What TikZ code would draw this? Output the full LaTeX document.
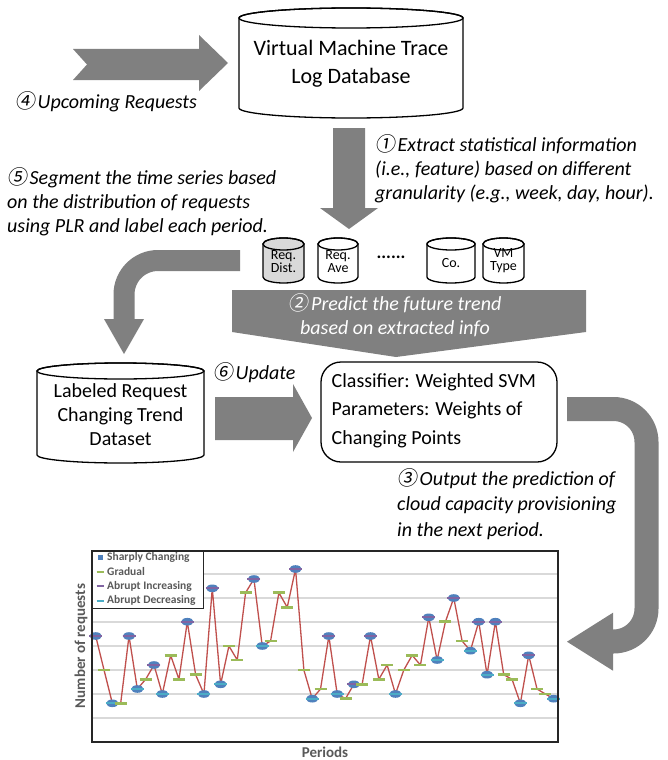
\documentclass[tikz,border=0pt]{standalone}
\usepackage{fontspec}
\setmainfont{Carlito}
\newfontfamily\circfont[FakeSlant=0.15]{Noto Sans CJK JP}
\definecolor{agray}{RGB}{128,128,128}
\definecolor{lgray}{RGB}{217,217,217}
\definecolor{gridc}{RGB}{217,217,217}
\definecolor{txtgray}{RGB}{89,89,89}
\definecolor{mblue}{RGB}{79,129,189}
\definecolor{mred}{RGB}{192,80,77}
\definecolor{mgreen}{RGB}{155,187,89}
\definecolor{mpurple}{RGB}{128,100,162}
\definecolor{mcyan}{RGB}{75,172,198}
\newcommand\cnum[1]{{\circfont #1}\hspace{2.5pt}}
\tikzset{
  cylline/.style={draw=black, line width=1.3},
  lbl/.style={font=\fontsize{20}{24}\selectfont\itshape, anchor=base west, align=left, inner sep=0},
  boxtxt/.style={font=\fontsize{20}{24}\selectfont, align=center, inner sep=0},
  smalltxt/.style={font=\fontsize{14}{13}\selectfont, align=center, inner sep=0},
  legtxt/.style={font=\bfseries\fontsize{11.5}{11.5}\selectfont, text=txtgray, anchor=west, inner sep=0},
  axtxt/.style={font=\bfseries\fontsize{15}{15}\selectfont, text=txtgray, inner sep=0},
  gridline/.style={draw=gridc, line width=1.2},
  dataline/.style={draw=mred, line width=1.3, line join=round},
}
\newcommand\mycyl[6]{%
  \pgfmathsetmacro\cylrx{(#2-#1)/2}%
  \pgfmathsetmacro\cylcx{(#2+#1)/2}%
  \filldraw[fill=#6, cylline] (#1,#3) -- (#1,#4) arc[start angle=180,end angle=0,x radius=\cylrx,y radius=#5] -- (#2,#3) arc[start angle=0,end angle=-180,x radius=\cylrx,y radius=#5] -- cycle;
  \draw[cylline] (\cylcx,#3) ellipse[x radius=\cylrx, y radius=#5];
}
\newcommand\mkP[2]{\fill[mblue] (#1,#2) ellipse[x radius=6.2, y radius=3.8]; \draw[mpurple, line width=2.2] ({#1-6.5},#2) -- ({#1+6.5},#2);}
\newcommand\mkC[2]{\fill[mblue] (#1,#2) ellipse[x radius=6.2, y radius=3.8]; \draw[mcyan, line width=2.2] ({#1-6.5},#2) -- ({#1+6.5},#2);}
\newcommand\mkG[2]{\draw[mgreen, line width=2.5] ({#1-6},#2) -- ({#1+6},#2);}
\begin{document}
\begin{tikzpicture}[x=1pt,y=-1pt]
\useasboundingbox[fill=white] (0,0) rectangle (667,760);

% --- step 4 arrow
\fill[agray] (73,49) -- (199,49) -- (199,35) -- (228,63) -- (199,91) -- (199,80) -- (73,80) -- (87,64.5) -- cycle;
\node[lbl] (l4) at (15,108) {\cnum{④}Upcoming Requests};

% --- VM trace database
\mycyl{239}{463}{18}{108}{10}{white}
\node[boxtxt, font=\fontsize{22}{28}\selectfont] (vmdb) at (351,64) {Virtual Machine Trace\\Log Database};

% --- step 1 arrow
\fill[agray] (333,128) -- (365,128) -- (365,208) -- (378,208) -- (349,229) -- (320,208) -- (333,208) -- cycle;
\node[lbl] (l1) at (375,199) {\cnum{①}Extract statistical information\\(i.e., feature) based on different\\granularity (e.g., week, day, hour).};

% --- step 5 label
\node[lbl] (l5) at (7,232) {\cnum{⑤}Segment the time series based\\on the distribution of requests\\using PLR and label each period.};

% --- feature cylinders
\mycyl{263}{304}{244}{277}{6}{lgray}
\node[smalltxt] (fdist) at (283.5,261.5) {Req.\\Dist.};
\mycyl{318}{358}{244}{277}{6}{white}
\node[smalltxt] (fave) at (338,261.5) {Req.\\Ave};
\node[font=\bfseries\fontsize{18}{18}\selectfont, inner sep=0] (fdots) at (391,257) {......};
\mycyl{427}{475}{244}{277}{6}{white}
\node[smalltxt] (fco) at (451,263) {Co.};
\mycyl{483}{524}{244}{277}{6}{white}
\node[smalltxt] (fvm) at (503.5,260.5) {VM\\Type};

% --- step 5 curved arrow
\draw[agray, line width=21, rounded corners=34] (240,260.5) -- (124,260.5) -- (124,320);
\fill[agray] (104,319) -- (144,319) -- (124,354) -- cycle;

% --- step 2 trapezoid arrow
\fill[agray] (232,290) -- (586,290) -- (586,332) -- (396,357) -- (232,332) -- cycle;
\node[boxtxt, font=\fontsize{20}{24}\selectfont\itshape, text=white] (l2) at (395,315) {{\circfont ②}\hspace{2.5pt}Predict the future trend\\based on extracted info};

% --- labeled dataset
\mycyl{37}{204}{371}{455}{8}{white}
\node[boxtxt] (lds) at (120.5,415) {Labeled Request\\Changing Trend\\Dataset};

% --- update arrow
\fill[agray] (215,397) -- (293,397) -- (293,384) -- (312,418) -- (293,452) -- (293,440) -- (215,440) -- cycle;
\node[lbl] (l6) at (213,379) {\cnum{⑥}Update};

% --- classifier box
\node[draw, line width=1.3, rounded corners=20, minimum width=236, minimum height=100, inner sep=0] (clf) at (439,412) {};
\node[lbl, font=\fontsize{20}{28.5}\selectfont] (clft) at (331.5,444) {Classifier: Weighted SVM\\Parameters: Weights of\\Changing Points};

% --- step 3 arrow
\draw[agray, line width=24, rounded corners=33] (567,409) -- (646.5,409) -- (646.5,641.5) -- (612,641.5);
\fill[agray] (613,612.7) -- (567,641.7) -- (613,670.7) -- cycle;
\node[lbl, font=\fontsize{20}{25.5}\selectfont\itshape] (l3) at (397,536) {\cnum{③}Output the prediction of\\cloud capacity provisioning\\in the next period.};

% --- chart
\foreach \gy in {574,598,622,646,670,694,718} \draw[gridline] (92,\gy) -- (558,\gy);
\draw[dataline] (95.7,636) \foreach \yy [count=\i from 2] in {670,703.3,703.3,636,689,679.3,665,694,655.3,679.3,621.7,674.7,694,588.3,684.3,646,660,592.7,579,646,641,592.7,607.3,569,670,698.7,689,636,694,698.7,684.3,684.3,636,679.3,665,694,670,655.3,665,617.3,660,621.7,598,641,650.7,621.7,674.7,621.7,674.7,679.3,703.3,655.3,689,694,698.7} { -- ({95.7+(\i-1)*8.327},\yy) };
\foreach \yy/\tt [count=\i from 1] in {636/P,670/G,703.3/C,703.3/G,636/P,689/C,679.3/G,665/P,694/C,655.3/G,679.3/G,621.7/P,674.7/G,694/C,588.3/P,684.3/C,646/G,660/G,592.7/G,579/P,646/C,641/G,592.7/G,607.3/G,569/P,670/G,698.7/C,689/G,636/P,694/C,698.7/G,684.3/P,684.3/G,636/P,679.3/G,665/G,694/C,670/G,655.3/G,665/G,617.3/P,660/C,621.7/G,598/P,641/G,650.7/C,621.7/P,674.7/C,621.7/P,674.7/G,679.3/G,703.3/C,655.3/P,689/G,694/G,698.7/C} {
  \pgfmathsetmacro\xx{95.7+(\i-1)*8.327}
  \csname mk\tt\endcsname{\xx}{\yy}
};
% legend
\filldraw[fill=white, draw=black!85, line width=1] (92,551) rectangle (203,608);
\fill[mblue] (97.5,554.5) rectangle (102.5,559.5);
\node[legtxt] (lg1) at (107,557) {Sharply Changing};
\draw[mgreen, line width=2] (96.5,571.5) -- (103.5,571.5);
\node[legtxt] (lg2) at (107,571.5) {Gradual};
\draw[mpurple, line width=2] (96.5,586) -- (103.5,586);
\node[legtxt] (lg3) at (107,586) {Abrupt Increasing};
\draw[mcyan, line width=2] (96.5,600.5) -- (103.5,600.5);
\node[legtxt] (lg4) at (107,600.5) {Abrupt Decreasing};
% frame
\draw[draw=black!85, line width=1.2] (92,551) rectangle (558,742);
\node[axtxt, rotate=90] (ylab) at (81,646) {Number of requests};
\node[axtxt] (xlab) at (325,752) {Periods};
\end{tikzpicture}
\end{document}
